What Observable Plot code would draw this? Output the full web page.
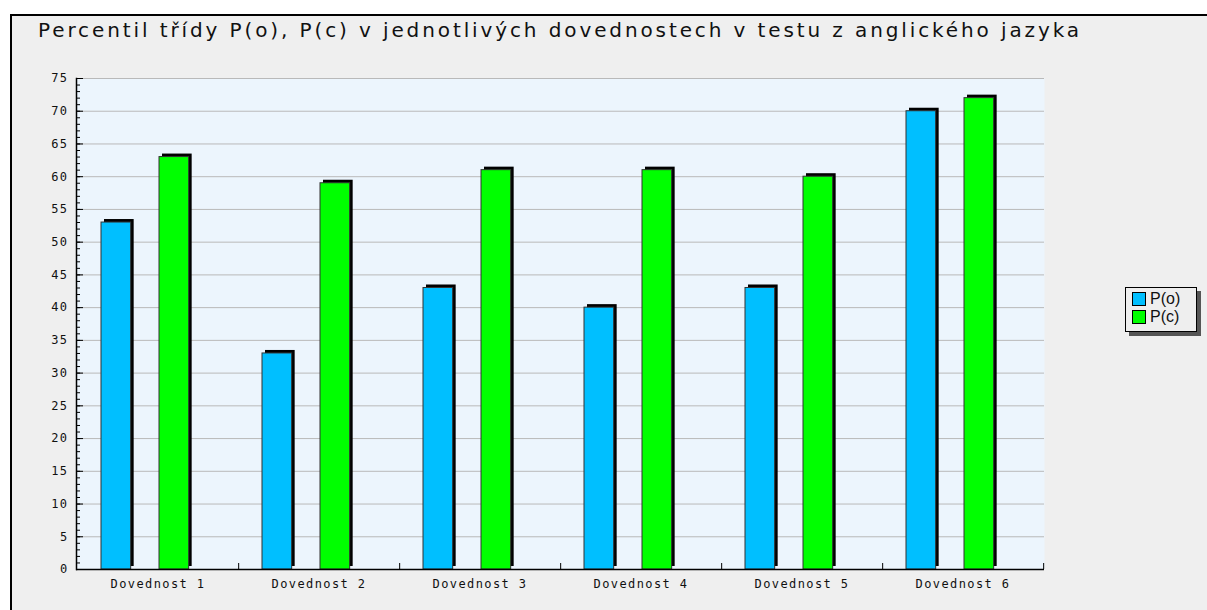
<!DOCTYPE html>
<html>
<head>
<meta charset="utf-8">
<script src="https://cdn.jsdelivr.net/npm/d3@7"></script>
<script src="https://cdn.jsdelivr.net/npm/@observablehq/plot@0.6"></script>
<style>
  html, body { margin: 0; padding: 0; background: #ffffff; }
  #wrap { position: relative; width: 1207px; height: 610px; overflow: hidden; background: #ffffff; }
  #panel { position: absolute; left: 10px; top: 14px; right: 0; bottom: 0; background: #efefef;
           border-left: 2px solid #000; border-top: 2px solid #000; box-sizing: border-box; }
  #title { position: absolute; left: 38px; top: 18px; font-family: "DejaVu Sans", sans-serif; font-size: 20px;
           color: #111; white-space: nowrap; }
  #chart { position: absolute; left: 0; top: 0; }
  #chart svg g[aria-label$="tick label"] text, #chart svg g[aria-label$="tick label"] { font-family: "DejaVu Sans Mono", monospace; font-size: 12px; letter-spacing: 1.4px; }
  #legend { position: absolute; left: 1125px; top: 287px; width: 72px; height: 45px; box-sizing: border-box;
            border: 1px solid #000; background: #eeeeee; box-shadow: 4px 4px 0 #555;
            font-family: "Liberation Sans", Arial, sans-serif; font-size: 16px; color: #111; padding: 2px 0 0 6px; }
  .item { display: flex; align-items: center; height: 18px; line-height: 18px; }
  .sw { width: 12px; height: 12px; border: 1px solid #000; margin-right: 4px; box-sizing: content-box; }
</style>
</head>
<body>
<div id="wrap">
  <div id="panel"></div>
  <div id="chart"></div>
  <div id="title"><span id="ttext">Percentil třídy P(o), P(c) v jednotlivých dovednostech v testu z anglického jazyka</span></div>
  <div id="legend"></div>
</div>
<script>
// ---- data ----
const categories = ["Dovednost 1", "Dovednost 2", "Dovednost 3", "Dovednost 4", "Dovednost 5", "Dovednost 6"];
const seriesNames = ["P(o)", "P(c)"];
const po = [53, 33, 43, 40, 43, 70];
const pc = [63, 59, 61, 61, 60, 72];
const yTicks = [0, 5, 10, 15, 20, 25, 30, 35, 40, 45, 50, 55, 60, 65, 70, 75];

const colors = { "P(o)": "#00bfff", "P(c)": "#00ff00" };

const rowsO = categories.map((c, i) => ({ cat: c, series: "P(o)", value: po[i] }));
const rowsC = categories.map((c, i) => ({ cat: c, series: "P(c)", value: pc[i] }));

const W = 1207, H = 610;
const mL = 76, mR = 163, mT = 78, mB = 41;
const band = (W - mL - mR) / categories.length;

// bar placement within each category band (style offsets)
const oLeft = 24, oRight = band - 54;
const cLeft = 82, cRight = band - 112;

const minorTicks = d3.range(0, 76, 1);

const chart = Plot.plot({
  width: W, height: H,
  marginLeft: mL, marginRight: mR, marginTop: mT, marginBottom: mB,
  style: { background: "transparent", color: "#111" },
  x: { domain: categories, type: "band", paddingInner: 0, paddingOuter: 0, label: null },
  y: { domain: [0, 75], label: null },
  marks: [
    Plot.frame({ fill: "#ecf5fd", stroke: null }),
    Plot.gridY({ ticks: yTicks.filter(d => d > 0), stroke: "#b9b9b9", strokeOpacity: 1, strokeWidth: 1 }),
    // shadows
    Plot.barY(rowsO, { x: "cat", y: "value", fill: "#000", insetLeft: oLeft, insetRight: oRight, dx: 3, dy: -3 }),
    Plot.barY(rowsC, { x: "cat", y: "value", fill: "#000", insetLeft: cLeft, insetRight: cRight, dx: 3, dy: -3 }),
    // bars
    Plot.barY(rowsO, { x: "cat", y: "value", fill: d => colors[d.series], insetLeft: oLeft, insetRight: oRight, stroke: "#333", strokeWidth: 1 }),
    Plot.barY(rowsC, { x: "cat", y: "value", fill: d => colors[d.series], insetLeft: cLeft, insetRight: cRight, stroke: "#333", strokeWidth: 1 }),
    // axes
    Plot.axisY({ ticks: minorTicks, tickSize: -4, text: null, stroke: "#000" }),
    Plot.axisY({ ticks: yTicks, tickSize: -7, text: null, stroke: "#000" }),
    Plot.axisY({ ticks: yTicks, tickSize: 0, tickPadding: 8, tickFormat: d => String(d), fill: "#111" }),
    Plot.axisX({ tickSize: -6, text: null, dx: band / 2, stroke: "#000" }),
    Plot.axisX({ tickSize: 0, tickPadding: 10, fill: "#111" }),
    Plot.frame({ anchor: "left", stroke: "#000", strokeWidth: 1.5 }),
    Plot.ruleY([0], { stroke: "#000", strokeWidth: 1.5 })
  ]
});
document.getElementById("chart").appendChild(chart);

// legend
const legend = document.getElementById("legend");
seriesNames.forEach(s => {
  const it = document.createElement("div");
  it.className = "item";
  const sw = document.createElement("span");
  sw.className = "sw";
  sw.style.background = colors[s];
  const tx = document.createElement("span");
  tx.textContent = s;
  it.appendChild(sw); it.appendChild(tx);
  legend.appendChild(it);
});

// stretch title to reference width
const t = document.getElementById("ttext");
const w0 = t.getBoundingClientRect().width;
const n = t.textContent.length;
t.style.letterSpacing = ((1044 - w0) / n) + "px";
</script>
</body>
</html>
